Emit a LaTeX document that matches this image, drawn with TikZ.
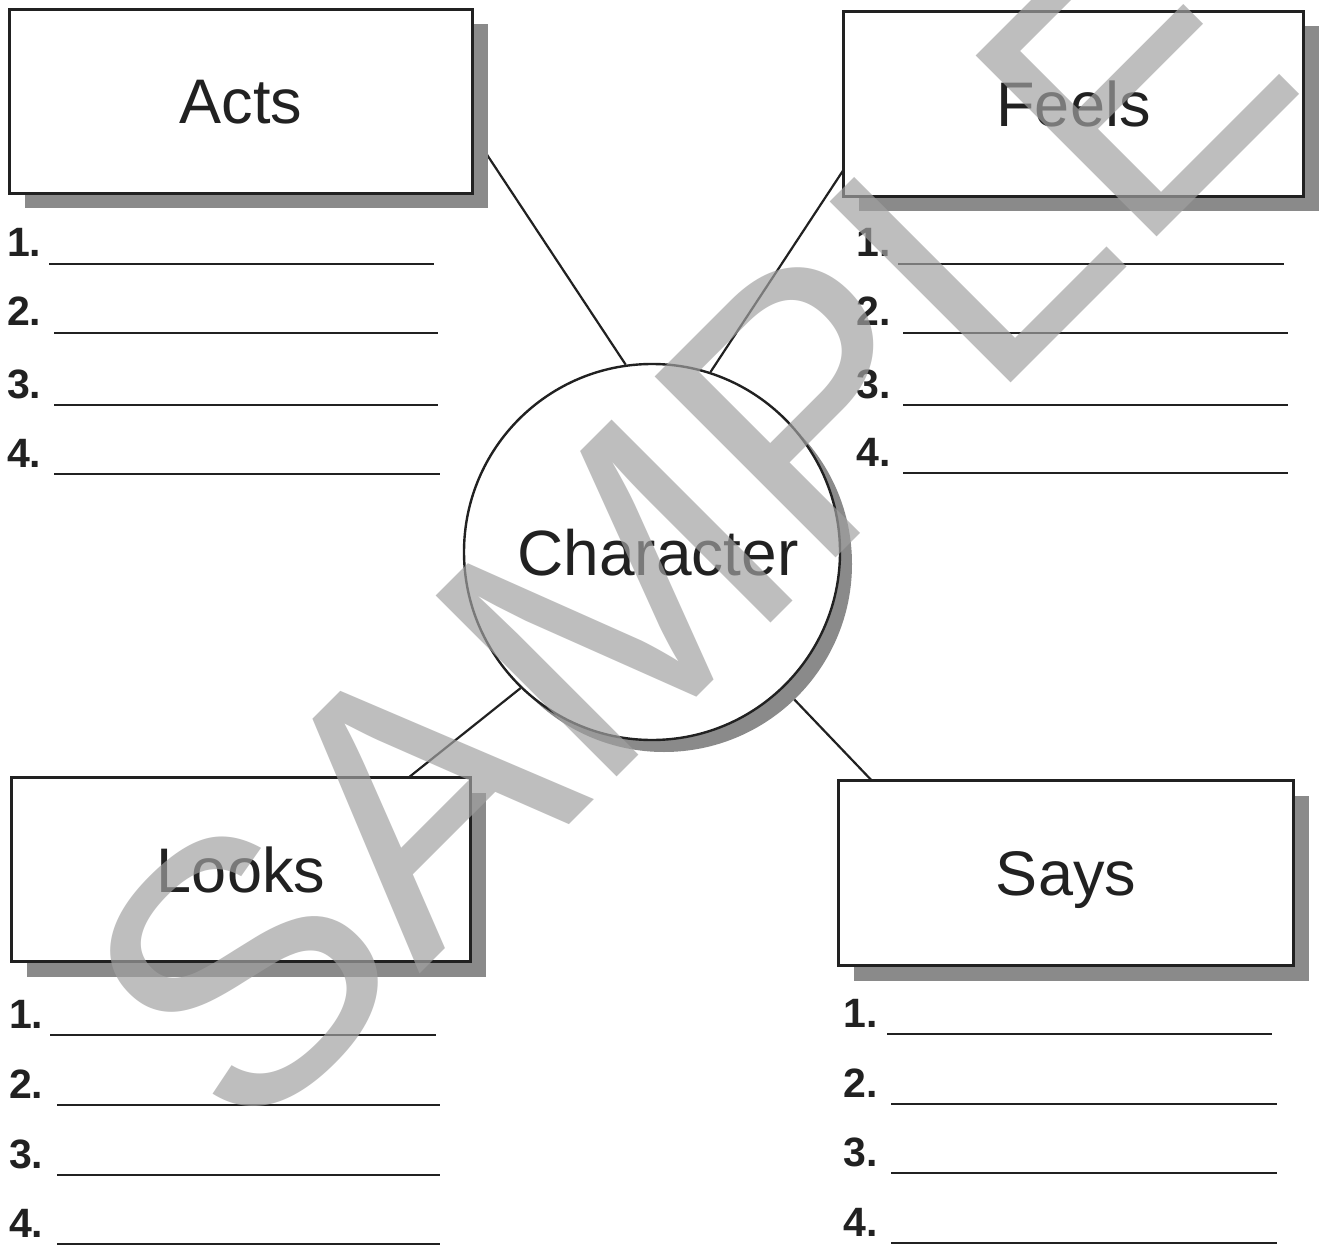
\documentclass[tikz,border=0pt]{standalone}
\usepackage{fontspec}
\setmainfont{Liberation Sans}
\usetikzlibrary{shadows,backgrounds}
\pgfdeclarelayer{paper}
\pgfsetlayers{paper,background,main}
\definecolor{ink}{gray}{0.13}
\definecolor{shadowgray}{gray}{0.54}
\definecolor{stampgray}{gray}{0.63}
\begin{document}
\begin{tikzpicture}[x=1pt,y=-1pt,
  panel/.style={rectangle, draw=ink, line width=2.8pt, fill=white, inner sep=0pt,
    text=ink, font=\fontsize{63}{63}\selectfont, text height=45pt, text depth=0pt,
    drop shadow={shadow xshift=15pt, shadow yshift=-15pt, fill=shadowgray, opacity=1}},
  hub/.style={circle, draw=ink, line width=2.4pt, fill=white, inner sep=0pt,
    minimum size=376pt, text=ink, font=\fontsize{64}{64}\selectfont,
    text height=46pt, text depth=0pt,
    drop shadow={shadow xshift=12pt, shadow yshift=-12pt, fill=shadowgray, opacity=1}},
  link/.style={draw=ink, line width=2.2pt},
  num/.style={anchor=base west, inner sep=0pt, text=ink,
    font=\bfseries\fontsize{41}{41}\selectfont},
  rule/.style={draw=ink, line width=2.8pt},
  stamp/.style={anchor=base west, inner sep=0pt, rotate=45, text=stampgray,
    text opacity=0.69, font=\fontsize{372}{372}\selectfont}
]
\useasboundingbox (0,0) rectangle (1322,1246);
\begin{pgfonlayer}{paper}
  \fill[white] (0,0) rectangle (1322,1246);
\end{pgfonlayer}

% central circle and the four category boxes
\node[hub] (char) at (652,552) {\hspace*{12pt}Character};
\node[panel, minimum width=463pt, minimum height=184pt] (acts)  at (241,101.5)  {Acts};
\node[panel, minimum width=460pt, minimum height=185pt] (feels) at (1073.5,104) {Feels};
\node[panel, minimum width=459pt, minimum height=184pt] (looks) at (241,869.5)  {Looks};
\node[panel, minimum width=455pt, minimum height=185pt] (says)  at (1066,873)   {Says};

% connector ends tucked under the boxes
\coordinate (acts-tip)  at (470,129);
\coordinate (feels-tip) at (850,160);
\coordinate (looks-tip) at (398,786);
\coordinate (says-tip)  at (876,785);

\begin{scope}[on background layer]
  \draw[link] (char.98)  -- (acts-tip);
  \draw[link] (char.72)  -- (feels-tip);
  \draw[link] (char.226) -- (looks-tip);
  \draw[link] (char.314) -- (says-tip);
\end{scope}

% numbered answer lines
\foreach \n/\y/\xa/\xb in {1/264/49/434, 2/333/54/438, 3/405/54/438, 4/474/54/440}{
  \node[num] (acts-\n) at (7,\y-7) {\n.};
  \draw[rule] (\xa,\y) -- (\xb,\y);
}
\foreach \n/\y/\xa/\xb in {1/264/898/1284, 2/333/903/1288, 3/405/903/1288, 4/473/903/1288}{
  \node[num] (feels-\n) at (856,\y-7) {\n.};
  \draw[rule] (\xa,\y) -- (\xb,\y);
}
\foreach \n/\y/\xa/\xb in {1/1035/50/436, 2/1105/57/440, 3/1175/57/440, 4/1244/57/440}{
  \node[num] (looks-\n) at (9,\y-7) {\n.};
  \draw[rule] (\xa,\y) -- (\xb,\y);
}
\foreach \n/\y/\xa/\xb in {1/1034/887/1272, 2/1104/891/1277, 3/1173/891/1277, 4/1243/891/1277}{
  \node[num] (says-\n) at (843,\y-7) {\n.};
  \draw[rule] (\xa,\y) -- (\xb,\y);
}

% translucent stamp across the sheet
\node[stamp] (stamp) at (244,1150) {SAMPLE};
\end{tikzpicture}
\end{document}
